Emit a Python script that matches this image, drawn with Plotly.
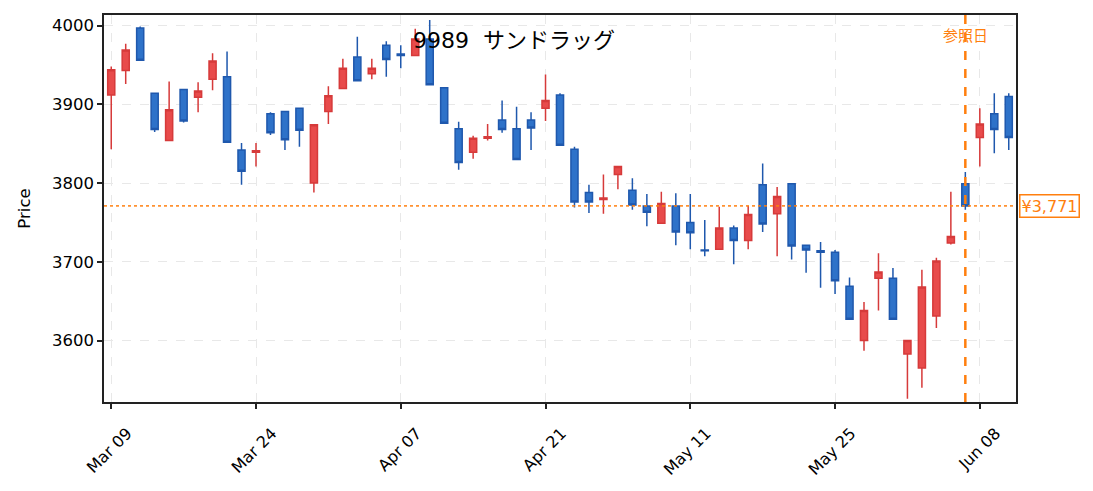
import plotly.graph_objects as go

# 2020 trading days (TSE), Mar 09 .. Jun 10
dates = [
    "2020-03-09", "2020-03-10", "2020-03-11", "2020-03-12", "2020-03-13",
    "2020-03-16", "2020-03-17", "2020-03-18", "2020-03-19", "2020-03-23",
    "2020-03-24", "2020-03-25", "2020-03-26", "2020-03-27", "2020-03-30",
    "2020-03-31", "2020-04-01", "2020-04-02", "2020-04-03", "2020-04-06",
    "2020-04-07", "2020-04-08", "2020-04-09", "2020-04-10", "2020-04-13",
    "2020-04-14", "2020-04-15", "2020-04-16", "2020-04-17", "2020-04-20",
    "2020-04-21", "2020-04-22", "2020-04-23", "2020-04-24", "2020-04-27",
    "2020-04-28", "2020-04-30", "2020-05-01", "2020-05-07", "2020-05-08",
    "2020-05-11", "2020-05-12", "2020-05-13", "2020-05-14", "2020-05-15",
    "2020-05-18", "2020-05-19", "2020-05-20", "2020-05-21", "2020-05-22",
    "2020-05-25", "2020-05-26", "2020-05-27", "2020-05-28", "2020-05-29",
    "2020-06-01", "2020-06-02", "2020-06-03", "2020-06-04", "2020-06-05",
    "2020-06-08", "2020-06-09", "2020-06-10",
]

opens = [
    3912, 3943, 3997, 3914, 3854, 3919, 3909, 3932, 3935, 3842,
    3839, 3888, 3891, 3895, 3800, 3891, 3920, 3960, 3939, 3975,
    3964, 3962, 3983, 3921, 3869, 3839, 3857, 3880, 3869, 3880,
    3895, 3912, 3843, 3788, 3779, 3811, 3791, 3771, 3749, 3771,
    3750, 3715, 3716, 3743, 3727, 3798, 3761, 3799, 3721, 3714,
    3712, 3669, 3600, 3679, 3679, 3583, 3565, 3631, 3724, 3799,
    3858, 3888, 3910,
]
highs = [
    3948, 3977, 3999, 3914, 3929, 3919, 3928, 3965, 3967, 3851,
    3851, 3890, 3892, 3895, 3874, 3923, 3958, 3986, 3958, 3980,
    3975, 3996, 4007, 3921, 3878, 3860, 3875, 3905, 3897, 3890,
    3938, 3914, 3846, 3798, 3811, 3821, 3806, 3786, 3789, 3787,
    3786, 3753, 3770, 3746, 3771, 3825, 3795, 3799, 3721, 3725,
    3715, 3680, 3649, 3711, 3692, 3600, 3690, 3705, 3789, 3814,
    3895, 3914, 3914,
]
lows = [
    3843, 3926, 3956, 3865, 3854, 3877, 3890, 3918, 3852, 3798,
    3821, 3861, 3842, 3846, 3788, 3875, 3920, 3930, 3932, 3935,
    3946, 3962, 3925, 3876, 3817, 3831, 3854, 3864, 3830, 3842,
    3879, 3848, 3769, 3762, 3761, 3792, 3766, 3745, 3748, 3721,
    3716, 3707, 3716, 3697, 3716, 3738, 3707, 3703, 3686, 3667,
    3659, 3627, 3587, 3638, 3627, 3526, 3540, 3616, 3722, 3766,
    3821, 3838, 3842,
]
closes = [
    3944, 3969, 3956, 3868, 3893, 3879, 3917, 3955, 3852, 3815,
    3841, 3864, 3855, 3867, 3874, 3911, 3946, 3930, 3946, 3957,
    3962, 3983, 3925, 3876, 3826, 3857, 3859, 3868, 3830, 3870,
    3905, 3848, 3776, 3776, 3781, 3821, 3772, 3763, 3774, 3738,
    3737, 3714, 3743, 3727, 3760, 3748, 3783, 3720, 3715, 3712,
    3676, 3627, 3638, 3687, 3627, 3600, 3668, 3701, 3732, 3771,
    3875, 3868, 3858,
]

tick_dates = ["2020-03-09", "2020-03-24", "2020-04-07", "2020-04-21",
              "2020-05-11", "2020-05-25", "2020-06-08"]
tick_labels = ["Mar 09", "Mar 24", "Apr 07", "Apr 21", "May 11", "May 25", "Jun 08"]

ref_date = "2020-06-05"
ref_price = 3771
title = "9989\u00a0\u00a0サンドラッグ"

FONT = "DejaVu Sans, Noto Sans CJK JP, sans-serif"
ORANGE = "#ff7f0e"

fig = go.Figure()

fig.add_trace(go.Candlestick(
    x=dates, open=opens, high=highs, low=lows, close=closes,
    increasing=dict(line=dict(color="#d63a3a", width=1.5), fillcolor="#e84b4b"),
    decreasing=dict(line=dict(color="#1f58ad", width=1.5), fillcolor="#2e72c9"),
    whiskerwidth=0, showlegend=False,
))

ref_idx = dates.index(ref_date)

# 基準価格の点線
fig.add_shape(type="line", xref="paper", x0=0, x1=1, y0=ref_price, y1=ref_price,
              line=dict(color=ORANGE, width=1.8, dash="dot"), opacity=0.85)
# 参照日の縦線
fig.add_shape(type="line", yref="paper", x0=ref_idx, x1=ref_idx, y0=0, y1=1,
              line=dict(color=ORANGE, width=2.5, dash="dash"))

fig.add_annotation(x=ref_idx, y=0.946, yref="paper", yanchor="middle", text="参照日",
                   showarrow=False, font=dict(family=FONT, size=15, color=ORANGE),
                   xanchor="center")
fig.add_annotation(x=1.003, xref="paper", y=ref_price, text=f"¥{ref_price:,}",
                   showarrow=False, xanchor="left", yanchor="middle",
                   font=dict(family=FONT, size=16, color=ORANGE),
                   bgcolor="white", bordercolor=ORANGE, borderwidth=1.5, borderpad=1)
fig.add_annotation(x=0.45, xref="paper", y=0.935, yref="paper", yanchor="middle",
                   text=title, showarrow=False,
                   font=dict(family=FONT, size=22, color="black"))

fig.update_layout(
    width=1093, height=491,
    margin=dict(l=96, r=85, t=5, b=97),
    paper_bgcolor="white", plot_bgcolor="white",
    font=dict(family=FONT, size=16, color="black"),
    xaxis=dict(
        type="category", range=[-0.5, len(dates) - 0.5],
        rangeslider=dict(visible=False),
        tickvals=tick_dates, ticktext=tick_labels, tickangle=-45,
        tickfont=dict(size=16), ticklabelshift=16, ticklabelstandoff=9,
        ticks="outside", ticklen=5, tickwidth=1.5, tickcolor="#222",
        showline=True, linecolor="#222", linewidth=1.5, mirror=True,
        showgrid=True, gridcolor="#e8e8e8", griddash="dash", gridwidth=1,
    ),
    yaxis=dict(
        range=[3521.9, 4013.5],
        tickvals=[3600, 3700, 3800, 3900, 4000],
        tickfont=dict(size=16.5),
        title=dict(text="Price", font=dict(size=16.5), standoff=17),
        ticks="outside", ticklen=5, tickwidth=1.5, tickcolor="#222",
        showline=True, linecolor="#222", linewidth=1.5, mirror=True,
        showgrid=True, gridcolor="#e8e8e8", griddash="dash", gridwidth=1,
        zeroline=False,
    ),
)

fig.write_html("out.html")
